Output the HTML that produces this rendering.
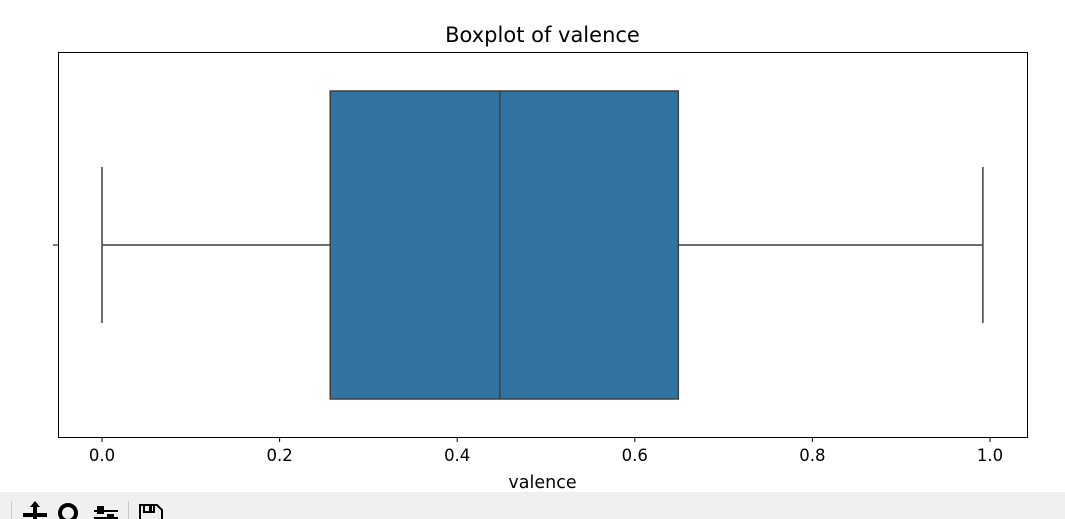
<!DOCTYPE html>
<html><head><meta charset="utf-8">
<style>
html,body{margin:0;padding:0;background:#fff;width:1065px;height:519px;overflow:hidden;font-family:"Liberation Sans","DejaVu Sans",sans-serif;}
</style></head>
<body>
<svg id="chart" width="1065" height="519" xmlns="http://www.w3.org/2000/svg" style="position:absolute;left:0;top:0">
<text x="542.5" y="42" text-anchor="middle" font-size="21" fill="#000" font-family="DejaVu Sans, Liberation Sans, sans-serif">Boxplot of valence</text>
<g id="plot"></g>
<text x="542.5" y="488" text-anchor="middle" font-size="17.5" fill="#000" font-family="DejaVu Sans, Liberation Sans, sans-serif">valence</text>
<g>
<rect x="0" y="492" width="1065" height="27" fill="#f0f0f0"/>
<line x1="11.5" y1="501" x2="11.5" y2="519" stroke="#c8c8c8"/>
<g fill="#000" stroke="#000">
<line x1="23" y1="515" x2="47" y2="515" stroke-width="4"/><line x1="35" y1="505" x2="35" y2="519" stroke-width="4"/>
<polygon points="35,501 30,507 40,507" stroke="none"/>
</g>
<g><circle cx="68" cy="513" r="8" fill="none" stroke="#000" stroke-width="4"/></g>
<g stroke="#000" stroke-width="2">
<line x1="94" y1="511" x2="118" y2="511"/><line x1="94" y1="518" x2="118" y2="518"/>
<rect x="98" y="507" width="5" height="6" fill="#000"/><rect x="108" y="515" width="5" height="4" fill="#000"/>
</g>
<line x1="128.5" y1="501" x2="128.5" y2="519" stroke="#c8c8c8"/>
<g>
<path d="M140,519 V505 H157 L162,510 V519" fill="none" stroke="#000" stroke-width="2"/>
<rect x="144" y="505" width="10" height="7" fill="none" stroke="#000" stroke-width="2"/>
<rect x="149" y="506" width="3" height="5" fill="#000"/>
</g>
</g>
</svg>
<script>
const tickValues = [0.0, 0.2, 0.4, 0.6, 0.8, 1.0];
const tickLabels = ["0.0", "0.2", "0.4", "0.6", "0.8", "1.0"];
const whiskerLow = [0.0];
const q1 = [0.257];
const median = [0.448];
const q3 = [0.649];
const whiskerHigh = [0.992];

const NS = "http://www.w3.org/2000/svg";
const L = 58, R = 1027, T = 52, B = 437;
const x = v => 102 + v * 888;
const g = document.getElementById('plot');
function mk(tag, attrs) {
  const e = document.createElementNS(NS, tag);
  for (const k in attrs) e.setAttribute(k, attrs[k]);
  g.appendChild(e);
  return e;
}
const cy = (T + B) / 2 + 0.5;
const boxTop = 91, boxBot = 399, capTop = 167, capBot = 323;
const st = "#3f3f3f";
let e = mk('line', {x1: x(whiskerLow[0]), y1: cy, x2: x(q1[0]), y2: cy, stroke: st, 'stroke-width': 1.5});


e = mk('line', {x1: x(q3[0]), y1: cy, x2: x(whiskerHigh[0]), y2: cy, stroke: st, 'stroke-width': 1.5});


e = mk('line', {x1: x(whiskerLow[0]), y1: capTop, x2: x(whiskerLow[0]), y2: capBot, stroke: st, 'stroke-width': 1.5});


e = mk('line', {x1: x(whiskerHigh[0]), y1: capTop, x2: x(whiskerHigh[0]), y2: capBot, stroke: st, 'stroke-width': 1.5});


e = mk('rect', {x: x(q1[0]), y: boxTop, width: x(q3[0]) - x(q1[0]), height: boxBot - boxTop, fill: '#3274a1', stroke: st, 'stroke-width': 1.5});


e = mk('line', {x1: x(median[0]), y1: boxTop, x2: x(median[0]), y2: boxBot, stroke: st, 'stroke-width': 1.5});


e = mk('rect', {x: L + 0.5, y: T + 0.5, width: R - L, height: B - T, fill: 'none', stroke: '#000', 'stroke-width': 1});


e = mk('line', {x1: L - 5, y1: cy, x2: L, y2: cy, stroke: '#000', 'stroke-width': 1});


tickValues.forEach((v, i) => {
  const t = mk('line', {x1: x(v), y1: B, x2: x(v), y2: B + 5, stroke: '#000', 'stroke-width': 1});
  
  
  const lab = mk('text', {x: x(v), y: B + 24, 'text-anchor': 'middle', 'font-size': 16.5, fill: '#000', 'font-family': 'DejaVu Sans, Liberation Sans, sans-serif'});
  lab.textContent = tickLabels[i];
  
  
});
</script>
</body></html>
